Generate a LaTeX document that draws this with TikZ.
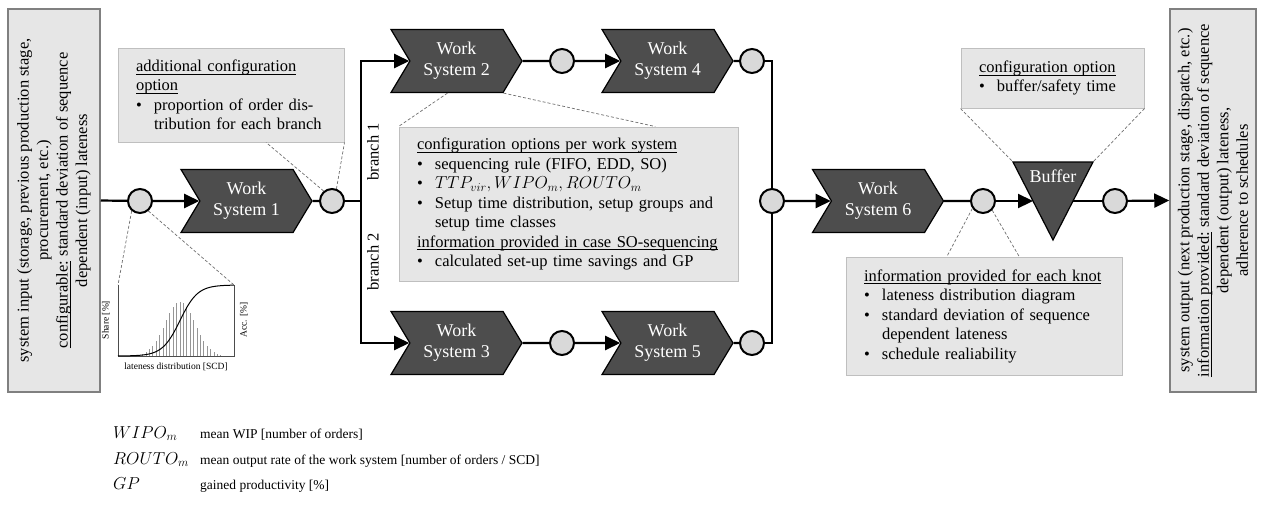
\documentclass[tikz,border=0pt]{standalone}
\usepackage{fontspec}
\setmainfont{Liberation Serif}
\usepackage{tikz}
\usetikzlibrary{arrows.meta,calc,shapes.symbols}
\definecolor{wsgray}{RGB}{77,77,77}
\definecolor{knotgray}{RGB}{217,217,217}
\definecolor{boxgray}{RGB}{230,230,230}
\definecolor{boxedge}{RGB}{191,191,191}
\definecolor{sideedge}{RGB}{128,128,128}
\definecolor{leadgray}{RGB}{110,110,110}
\definecolor{bargray}{RGB}{150,150,150}
\newcommand{\boxfont}{\fontsize{16.5}{19.5}\selectfont}
\newcommand{\wsfont}{\fontsize{18}{21}\selectfont}
\newcommand{\legfont}{\fontsize{13.5}{16}\selectfont}
\newcommand{\symfont}{\fontsize{16.5}{19}\selectfont}
\newcommand{\chfont}{\fontsize{9.5}{11}\selectfont}
\newcommand{\bitem}{\makebox[18pt][l]{\textbullet}}
\newcommand{\bindent}{\hspace*{18pt}}
% underline drawn as a rule of the text's width
\newcommand{\ulin}[1]{\leavevmode\setbox0=\hbox{#1}\rlap{\rule[-3pt]{\wd0}{0.7pt}}\box0\relax}
\tikzset{
  wsys/.style={signal, signal from=west, signal to=east, signal pointer angle=118,
    fill=wsgray, draw=black, line width=1.2pt, text=white, font=\wsfont,
    minimum width=131pt, minimum height=63pt, inner sep=0pt, align=center},
  knot/.style={circle, draw=black, line width=2pt, fill=knotgray,
    minimum size=24pt, inner sep=0pt},
  callout/.style={draw=boxedge, fill=boxgray, line width=1pt, align=left,
    inner xsep=18pt, inner ysep=6pt, font=\boxfont},
  sidebox/.style={draw=sideedge, fill=boxgray, line width=1.5pt, align=center,
    rotate=90, inner sep=2pt, font=\boxfont},
  flow/.style={line width=2.2pt},
  flowarrow/.style={flow, -{Triangle[length=15pt,width=14pt]}},
  lead/.style={draw=leadgray, line width=0.7pt, dash pattern=on 3pt off 2pt},
  bar/.style={draw=bargray, line width=0.8pt},
  chaxis/.style={draw=black!70, line width=0.6pt},
  chlabel/.style={font=\chfont, inner sep=1pt},
  legsym/.style={anchor=base west, font=\symfont, inner sep=0pt},
  legtxt/.style={anchor=base west, font=\legfont, inner sep=0pt}
}
\begin{document}
\begin{tikzpicture}[x=1pt, y=-1pt]
  \useasboundingbox (0,0) rectangle (1261,512);
  % system input and system output
  \node[sidebox, minimum width=383pt, minimum height=92pt] (inp) at (54,200.5)
    {system input (storage, previous production stage,\\procurement, etc.)\\
     \ulin{configurable:} standard deviation of sequence\\dependent (input) lateness};
  \node[sidebox, minimum width=383pt, minimum height=86pt] (outp) at (1213,200.5)
    {system output (next production stage, dispatch, etc.)\\
     \ulin{information provided:} standard deviation of sequence\\
     dependent (output) lateness,\\adherence to schedules};
  % knots
  \node[knot] (kin) at (140,201) {};
  \node[knot] (ksplit) at (332,201) {};
  \node[knot] (k24) at (562,61) {};
  \node[knot] (k4) at (752,61) {};
  \node[knot] (k35) at (562,343) {};
  \node[knot] (k5) at (752,343) {};
  \node[knot] (kmerge) at (772,201) {};
  \node[knot] (k6) at (983,201) {};
  \node[knot] (kbuf) at (1115,201) {};
  \coordinate (bsplit) at (361,201);
  % work systems
  \node[wsys] (ws1) at (246.5,201) {Work\\System 1};
  \node[wsys] (ws2) at (456.5,61) {Work\\System 2};
  \node[wsys] (ws3) at (456.5,343) {Work\\System 3};
  \node[wsys] (ws4) at (667.5,61) {Work\\System 4};
  \node[wsys] (ws5) at (667.5,343) {Work\\System 5};
  \node[wsys] (ws6) at (878,201) {Work\\System 6};
  % buffer (inverted triangle)
  \coordinate (bufTL) at (1013,162);
  \coordinate (bufTR) at (1093,162);
  \coordinate (bufB) at (1053,240);
  \coordinate (bufL) at (1033,201);
  \coordinate (bufR) at (1073,201);
  \filldraw[fill=wsgray, draw=black, line width=1.2pt] (bufTL) -- (bufTR) -- (bufB) -- cycle;
  \node[font=\wsfont, text=white, inner sep=0pt] (buflabel) at (1053,176) {Buffer};
  % material flow
  \draw[flow] (inp.south) -- (kin);
  \draw[flowarrow] (kin) -- (ws1);
  \draw[flow] (ws1) -- (ksplit);
  \draw[flow] (ksplit) -- (bsplit);
  \draw[flowarrow] (bsplit) |- (ws2);
  \draw[flowarrow] (bsplit) |- (ws3);
  \draw[flow] (ws2) -- (k24);
  \draw[flowarrow] (k24) -- (ws4);
  \draw[flow] (ws3) -- (k35);
  \draw[flowarrow] (k35) -- (ws5);
  \draw[flow] (ws4) -- (k4);
  \draw[flow] (ws5) -- (k5);
  \draw[flow] (k4) -| (kmerge);
  \draw[flow] (k5) -| (kmerge);
  \draw[flowarrow] (kmerge) -- (ws6);
  \draw[flow] (ws6) -- (k6);
  \draw[flowarrow] (k6) -- (bufL);
  \draw[flow] (bufR) -- (kbuf);
  \draw[flowarrow] (kbuf) -- (outp.north);
  % branch labels
  \node[rotate=90, font=\boxfont, inner sep=0pt] (br1) at (373,152) {branch 1};
  \node[rotate=90, font=\boxfont, inner sep=0pt] (br2) at (373,262) {branch 2};
  % callout boxes
  \node[callout, text width=190pt, minimum height=94pt] (addbox) at (231,95)
    {\ulin{additional configuration}\\\ulin{option}\\
     \bitem proportion of order dis-\\\bindent tribution for each branch};
  \node[callout, text width=303pt, minimum height=154pt] (cfgbox) at (568.5,204)
    {\ulin{configuration options per work system}\\
     \bitem sequencing rule (FIFO, EDD, SO)\\
     \bitem $TTP_{vir}, WIPO_m, ROUTO_m$\\
     \bitem Setup time distribution, setup groups and\\
     \bindent setup time classes\\
     \ulin{information provided in case SO-sequencing}\\
     \bitem calculated set-up time savings and GP};
  \node[callout, text width=147pt, minimum height=60pt] (bufbox) at (1052.5,78)
    {\ulin{configuration option}\\\bitem buffer/safety time};
  \node[callout, text width=240pt, minimum height=118pt] (knotbox) at (984,316)
    {\ulin{information provided for each knot}\\
     \bitem lateness distribution diagram\\
     \bitem standard deviation of sequence\\
     \bindent dependent lateness\\
     \bitem schedule realiability};
  % lateness distribution chart
  \coordinate (chTL) at (118,285);
  \coordinate (chTR) at (234,285);
  \coordinate (chBL) at (118,356);
  \coordinate (chBR) at (234,356);
  \foreach \i in {-12,...,12}
    \draw[bar] ({180+3.4*\i},356) -- ++(0,{-54*exp(-0.5*(3.4*\i/15)*(3.4*\i/15))});
  \draw[chaxis] (chTL) -- (chBL) -- (chBR) -- (chTR);
  \draw[line width=1pt] plot[domain=118:234, samples=80]
    (\x,{356-71/(1+exp(-1.702*(\x-180)/15))});
  \node[chlabel, rotate=90] (shareLbl) at (106,320) {Share [\%]};
  \node[chlabel, rotate=90] (accLbl) at (244,320) {Acc. [\%]};
  \node[chlabel] (latLbl) at (176,367) {lateness distribution [SCD]};
  % dashed leader lines
  \draw[lead] (kin.230) -- (chTL);
  \draw[lead] (kin.310) -- (chTR);
  \draw[lead] (ksplit.130) -- ($(addbox.south west)!0.655!(addbox.south east)$);
  \draw[lead] (ksplit.70) -- (addbox.south east);
  \draw[lead] ($(ws2.south)+(-9,0)$) -- (cfgbox.north west);
  \draw[lead] ($(ws2.south)+(47,0)$) -- ($(cfgbox.north west)!0.755!(cfgbox.north east)$);
  \draw[lead] (bufbox.south west) -- (bufTL);
  \draw[lead] (bufbox.south east) -- (bufTR);
  \draw[lead] (k6.215) -- ($(knotbox.north west)!0.366!(knotbox.north east)$);
  \draw[lead] (k6.315) -- ($(knotbox.north west)!0.627!(knotbox.north east)$);
  % legend
  \node[legsym] (symA) at (113,438) {$WIPO_m$};
  \node[legtxt] (txtA) at (200,438) {mean WIP [number of orders]};
  \node[legsym] (symB) at (113,464) {$ROUTO_m$};
  \node[legtxt] (txtB) at (200,464) {mean output rate of the work system [number of orders / SCD]};
  \node[legsym] (symC) at (113,489) {$GP$};
  \node[legtxt] (txtC) at (200,489) {gained productivity [\%]};
\end{tikzpicture}
\end{document}
